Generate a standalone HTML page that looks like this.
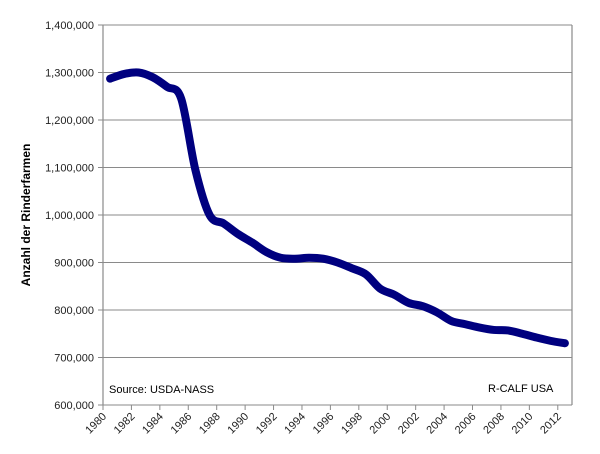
<!DOCTYPE html>
<html><head><meta charset="utf-8"><style>
body{margin:0;background:#fff;}
svg{display:block;font-family:"Liberation Sans",Arial,sans-serif;}
</style></head><body>
<svg id="chart" width="600" height="454" viewBox="0 0 600 454">
<g id="grid"></g>
<g id="yticks"></g>
<g id="xticks"></g>
<path id="line" fill="none" stroke="#00007f" stroke-width="8" stroke-linecap="round" stroke-linejoin="round"/>
<text transform="translate(30,215) rotate(-90)" text-anchor="middle" font-size="12" font-weight="bold">Anzahl der Rinderfarmen</text>
<text x="109" y="393" font-size="11">Source:  USDA-NASS</text>
<text x="488" y="392" font-size="11">R-CALF USA</text>
</svg>
<script>
const years=[1980,1981,1982,1983,1984,1985,1986,1987,1988,1989,1990,1991,1992,1993,1994,1995,1996,1997,1998,1999,2000,2001,2002,2003,2004,2005,2006,2007,2008,2009,2010,2011,2012];
const farms=[1287000,1297000,1300000,1290000,1270000,1245000,1095000,1000000,982000,960000,942000,922000,910000,908000,910000,908000,900000,888000,875000,845000,832000,815000,808000,795000,777000,770000,763000,758000,757000,750000,742000,735000,730000];
const yTicks=[600000,700000,800000,900000,1000000,1100000,1200000,1300000,1400000];
const xTickLabels=[1980,1982,1984,1986,1988,1990,1992,1994,1996,1998,2000,2002,2004,2006,2008,2010,2012];
const L=103,R=572,T=25,B=405,ymin=600000,ymax=1400000;
const step=(R-L)/years.length;
const ys=v=>B-(v-ymin)/(ymax-ymin)*(B-T);
const xs=yr=>L+(yr-years[0]+0.5)*step;
const xb=yr=>L+(yr-years[0])*step;
const NS="http://www.w3.org/2000/svg";
function mk(tag,attrs,parent){const e=document.createElementNS(NS,tag);for(const k in attrs)e.setAttribute(k,attrs[k]);parent.appendChild(e);return e;}
function fmt(v){return String(v).replace(/\B(?=(\d{3})+(?!\d))/g,",");}
const g=document.getElementById('grid'),gy=document.getElementById('yticks'),gx=document.getElementById('xticks');
yTicks.forEach(v=>{
 const y=ys(v);
 const ln=mk('line',{x1:L-5,x2:R,y1:y,y2:y,stroke:'#8a8a8a','stroke-width':1},g);
 
 
 const t=mk('text',{x:L-9,y:y+4,'text-anchor':'end','font-size':11,fill:'#222'},gy);
 
 
 t.textContent=fmt(v);
});
const ax=mk('line',{x1:L,x2:L,y1:T,y2:B,stroke:'#8a8a8a','stroke-width':1.2},g);


const ax2=mk('line',{x1:R,x2:R,y1:T,y2:B,stroke:'#8a8a8a','stroke-width':1.2},g);


xTickLabels.forEach(yr=>{
 const x=xb(yr);
 const tk=mk('line',{x1:x,x2:x,y1:B,y2:B+5,stroke:'#8a8a8a'},gx);
 
 
 const t=mk('text',{transform:'translate('+(x+4)+','+(B+12)+') rotate(-45)','text-anchor':'end','font-size':11,fill:'#222'},gx);
 
 
 t.textContent=yr;
});
const pts=years.map((yr,i)=>[xs(yr),ys(farms[i])]);
let d='M'+pts[0][0]+','+pts[0][1];
for(let i=0;i<pts.length-1;i++){
 const p0=pts[i-1]||pts[i],p1=pts[i],p2=pts[i+1],p3=pts[i+2]||p2;
 const c1=[p1[0]+(p2[0]-p0[0])/6,p1[1]+(p2[1]-p0[1])/6];
 const c2=[p2[0]-(p3[0]-p1[0])/6,p2[1]-(p3[1]-p1[1])/6];
 d+=' C'+c1[0]+','+c1[1]+' '+c2[0]+','+c2[1]+' '+p2[0]+','+p2[1];
}
document.getElementById('line').setAttribute('d',d);
</script>
</body></html>
